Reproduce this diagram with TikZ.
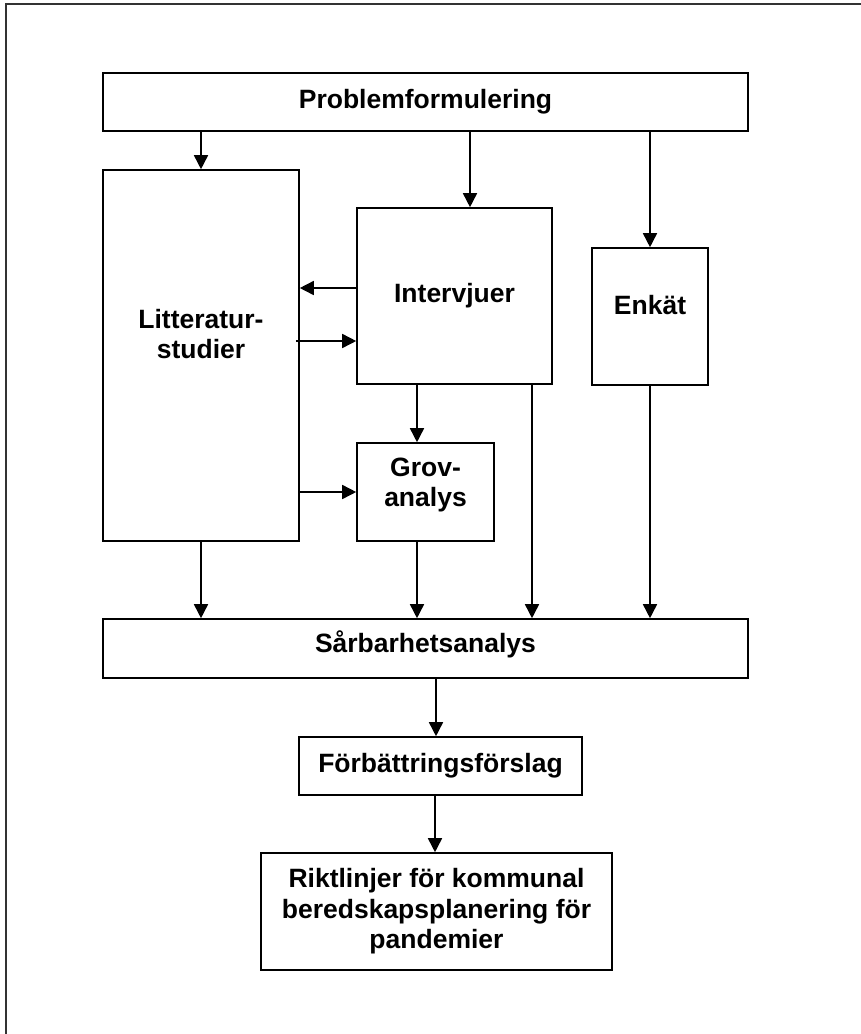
\documentclass[tikz,border=0pt]{standalone}
\usepackage{fontspec}
\setmainfont{Liberation Sans}
\usetikzlibrary{arrows.meta}
\begin{document}
\begin{tikzpicture}[x=1pt, y=-1pt,
  box/.style={draw, line width=1.6pt, inner sep=0pt, align=center},
  txt/.style={align=center},
  arr/.style={line width=1.6pt, -{Triangle[length=14pt, width=14pt]}},
  every node/.style={font=\fontsize{26.5}{30.5}\selectfont\bfseries}]
\useasboundingbox (0,0) rectangle (861,1034);
\draw[line width=1.8pt, black!80] (6,1034) -- (6,4) -- (861,4);

\node[box, minimum width=645, minimum height=58] (prob) at (425.5,102) {Problemformulering};
\node[box, minimum width=196, minimum height=371] (lit) at (201,355.5) {};
\node[txt] (littxt) at (201,334) {Litteratur-\\studier};
\node[box, minimum width=195, minimum height=176] (int) at (454.5,296) {Intervjuer};
\node[box, minimum width=116, minimum height=137] (enk) at (650,316.5) {};
\node[txt] (enktxt) at (650,305) {Enkät};
\node[box, minimum width=137, minimum height=98] (grov) at (425.5,492) {};
\node[txt] (grovtxt) at (425.5,485) {Grov-\\analys};
\node[box, minimum width=645, minimum height=59] (sar) at (425.5,648.5) {};
\node[txt] (sartxt) at (425.5,644) {Sårbarhetsanalys};
\node[box, minimum width=283, minimum height=58] (forb) at (440.5,766) {Förbättringsförslag};
\node[box, minimum width=351, minimum height=117] (rikt) at (436.5,911.5) {Riktlinjer för kommunal\\beredskapsplanering för\\pandemier};

% down from the problem box
\draw[arr] (prob.south -| lit.north) -- (lit.north);
\draw[arr] (prob.south -| 470,0) -- (int.north -| 470,0);
\draw[arr] (prob.south -| enk.north) -- (enk.north);

% between the studies and the interviews
\draw[arr] (int.west |- 0,288) -- (lit.east |- 0,288);
\draw[arr] ([xshift=-4]lit.east |- 0,341) -- (int.west |- 0,341);
\draw[arr] (int.south -| 417,0) -- (grov.north -| 417,0);
\draw[arr] (lit.east |- grov.west) -- (grov.west);

% into the vulnerability analysis
\draw[arr] (lit.south) -- (sar.north -| lit.south);
\draw[arr] (grov.south -| 417,0) -- (sar.north -| 417,0);
\draw[arr] (int.south -| 532,0) -- (sar.north -| 532,0);
\draw[arr] (enk.south) -- (sar.north -| enk.south);

\draw[arr] (sar.south -| 436,0) -- (forb.north -| 436,0);
\draw[arr] (forb.south -| 435,0) -- (rikt.north -| 435,0);
\end{tikzpicture}
\end{document}
